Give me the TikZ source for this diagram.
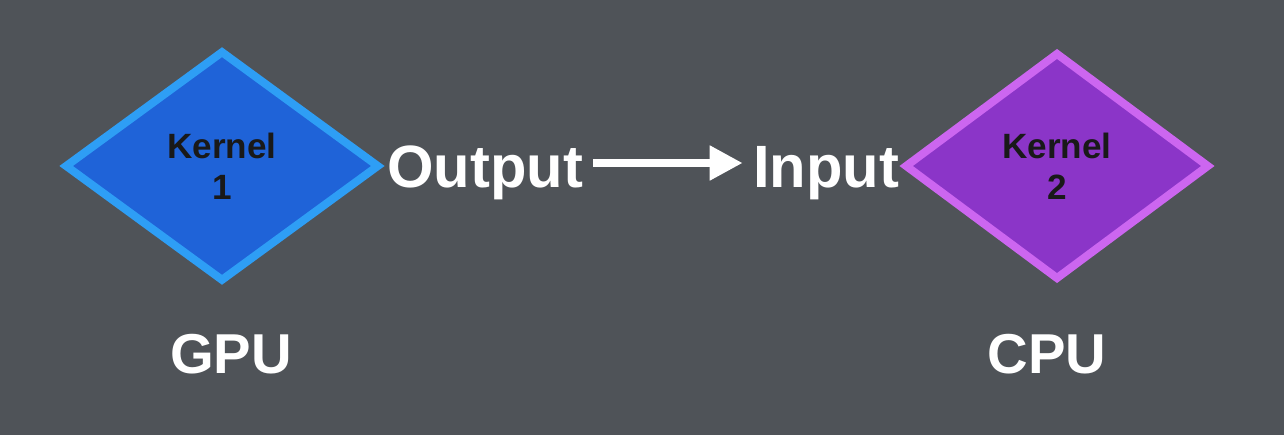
\documentclass[tikz,border=0pt]{standalone}
\usepackage{fontspec}
\setmainfont{Liberation Sans}
\usetikzlibrary{shapes.geometric,arrows.meta}
\definecolor{slate}{HTML}{4F5358}
\definecolor{gpufill}{HTML}{1F63D8}
\definecolor{gpuedge}{HTML}{2E9EF5}
\definecolor{cpufill}{HTML}{8B35C8}
\definecolor{cpuedge}{HTML}{CC66F0}
\begin{document}
\begin{tikzpicture}[x=0.02cm,y=-0.02cm,
		kernel/.style={diamond, line width=0.16cm, minimum width=6.3cm, minimum height=4.62cm, inner sep=0pt, align=center, text=black!90, font=\bfseries\fontsize{20}{23.5}\selectfont},
		lbl/.style={text=white, inner xsep=0.2cm, font=\bfseries\fontsize{34}{38}\selectfont},
		dev/.style={text=white, font=\bfseries\fontsize{32}{36}\selectfont}]
	\fill[slate] (0,0) rectangle (1284,435);
	\node[kernel, draw=gpuedge, fill=gpufill] (kone) at (222,166) {Kernel\\1};
	\node[kernel, draw=cpuedge, fill=cpufill, minimum width=6.1cm, minimum height=4.55cm] (ktwo) at (1057,166) {Kernel\\2};
	\node[lbl, anchor=base] (out) at (485,188) {Output};
	\node[lbl, anchor=base] (in) at (826,188) {Input};
	\draw[white, line width=0.16cm, -{Triangle[length=0.66cm,width=0.66cm]}] ([yshift=0.5cm]out.base east) -- ([yshift=0.5cm]in.base west);
	\node[dev] (gpu) at (231,354) {GPU};
	\node[dev] (cpu) at (1047,354) {CPU};
\end{tikzpicture}
\end{document}
